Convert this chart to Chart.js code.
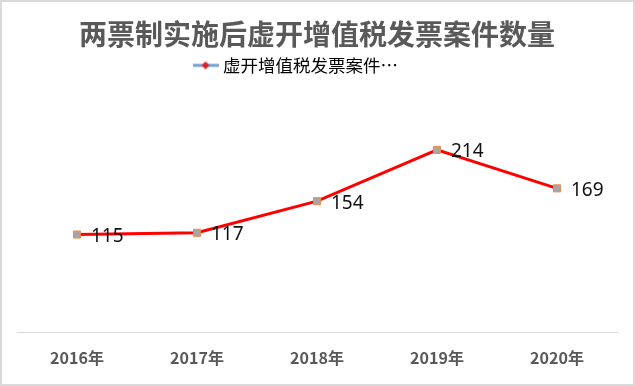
<!DOCTYPE html>
<html><head><meta charset="utf-8">
<script src="https://cdn.jsdelivr.net/npm/chart.js@4.4.1/dist/chart.umd.min.js"></script>
<style>
html,body{margin:0;padding:0;background:#fff;}
#wrap{position:relative;width:635px;height:386px;box-sizing:border-box;border:2px solid #d9d9d9;}
canvas{display:block;}
</style></head>
<body>
<div id="wrap"><canvas id="c" width="631" height="382"></canvas></div>
<script>
const categories = ['2016年','2017年','2018年','2019年','2020年'];
const caseCounts = [115, 117, 154, 214, 169];
const seriesName = '虚开增值税发票案件…';
const chartTitle = '两票制实施后虚开增值税发票案件数量';

// legend icon: light-blue line with red diamond
const icon = document.createElement('canvas');
icon.width = 26; icon.height = 10;
(function(){
  const g = icon.getContext('2d');
  g.strokeStyle = '#6fa0d8'; g.lineWidth = 3;
  g.beginPath(); g.moveTo(0,5); g.lineTo(26,5); g.stroke();
  g.fillStyle = '#e02020';
  g.beginPath(); g.moveTo(13,1); g.lineTo(17,5); g.lineTo(13,9); g.lineTo(9,5); g.closePath(); g.fill();
})();

const labelPlugin = {
  id: 'valueLabels',
  afterDatasetsDraw(chart) {
    const ctx = chart.ctx;
    const meta = chart.getDatasetMeta(0);
    ctx.save();
    ctx.font = '19px "Noto Sans", sans-serif';
    ctx.fillStyle = '#111';
    ctx.textAlign = 'left';
    ctx.textBaseline = 'middle';
    meta.data.forEach((pt, i) => {
      ctx.fillText(String(caseCounts[i]), pt.x + 14, pt.y + 2);
    });
    ctx.restore();
  }
};

new Chart(document.getElementById('c'), {
  type: 'line',
  data: {
    labels: categories,
    datasets: [{
      label: seriesName,
      data: caseCounts,
      borderColor: '#ff0000',
      borderWidth: 3,
      tension: 0,
      pointStyle: 'rect',
      pointRadius: 5,
      pointBackgroundColor: '#a6a6a6',
      pointBorderColor: '#ee8a4a',
      pointBorderWidth: 1
    }]
  },
  options: {
    responsive: false,
    animation: false,
    layout: { padding: { left: 15, right: 16, top: 12, bottom: 8 } },
    plugins: {
      title: {
        display: true,
        text: chartTitle,
        color: '#595959',
        font: { family: '"Noto Sans CJK SC", sans-serif', size: 28, weight: 'bold' },
        padding: { top: 4, bottom: 1 }
      },
      legend: {
        display: true,
        position: 'top',
        labels: {
          usePointStyle: true,
          color: '#111',
          font: { family: '"Noto Sans CJK SC", sans-serif', size: 17.5 },
          padding: 4,
          generateLabels: () => [{ text: seriesName + '          ', pointStyle: icon, fillStyle: '#fff', strokeStyle: '#fff', lineWidth: 0, datasetIndex: 0 }]
        }
      },
      tooltip: { enabled: false }
    },
    scales: {
      x: {
        offset: true,
        grid: { display: false },
        border: { display: true, color: '#d9d9d9', width: 1 },
        ticks: {
          color: '#595959',
          padding: 8,
          font: { family: '"Noto Sans CJK SC", sans-serif', size: 16, weight: 'bold' }
        }
      },
      y: {
        display: false,
        min: 0,
        max: 291
      }
    }
  },
  plugins: [labelPlugin]
});
</script>
</body></html>
